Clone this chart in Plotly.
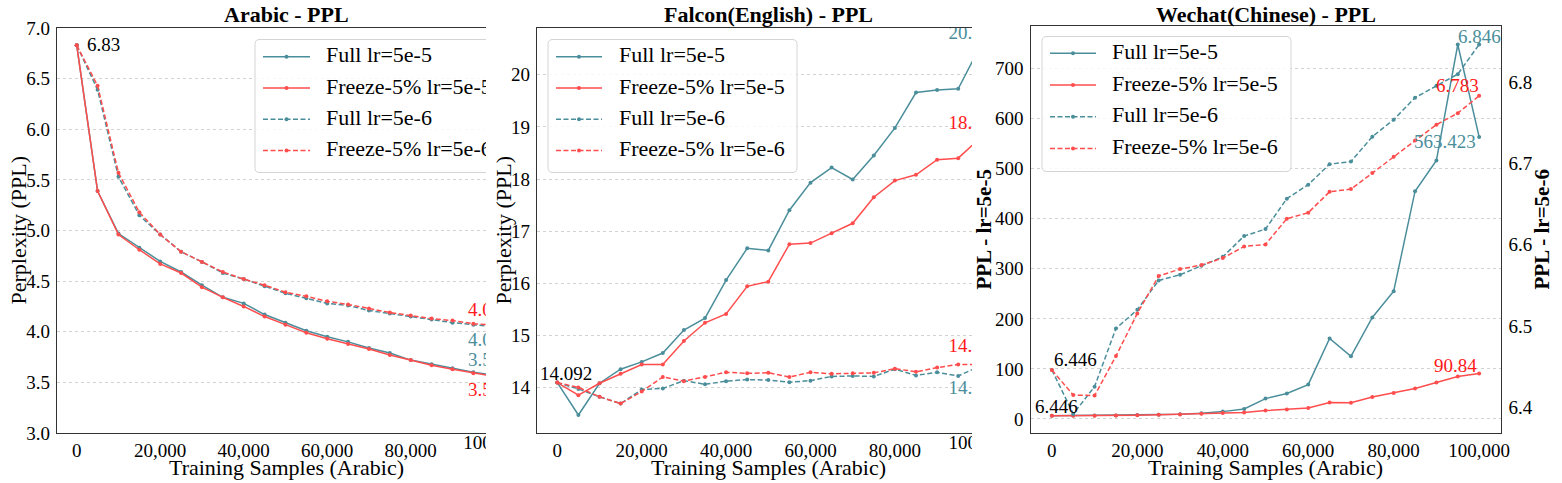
import numpy as np
import plotly.graph_objects as go

W, H = 1562, 483
FONT = "Liberation Serif, Times New Roman, serif"
TEAL = "#4B8E9B"
RED = "#FF4D4D"
RED_TXT = "#FF1A1A"

# ---------------- data ----------------
samples = list(range(0, 100001, 5000))
x_tickvals = [0, 20000, 40000, 60000, 80000, 100000]
x_ticktext = ["0", "20,000", "40,000", "60,000", "80,000", "100,000"]
series_names = ["Full lr=5e-5", "Freeze-5% lr=5e-5", "Full lr=5e-6", "Freeze-5% lr=5e-6"]

ar_full_5e5 = [6.83, 5.39, 4.97, 4.83, 4.695, 4.59, 4.46, 4.34, 4.28, 4.17, 4.09, 4.01, 3.95, 3.90, 3.84, 3.79, 3.72, 3.68, 3.64, 3.60, 3.5713]
ar_frz_5e5 = [6.83, 5.39, 4.96, 4.81, 4.67, 4.58, 4.44, 4.34, 4.25, 4.15, 4.07, 3.99, 3.93, 3.88, 3.83, 3.77, 3.72, 3.67, 3.63, 3.59, 3.5588]
ar_full_5e6 = [6.83, 6.39, 5.53, 5.15, 4.96, 4.79, 4.69, 4.58, 4.52, 4.45, 4.38, 4.33, 4.28, 4.26, 4.21, 4.18, 4.15, 4.12, 4.09, 4.07, 4.0512]
ar_frz_5e6 = [6.83, 6.43, 5.57, 5.18, 4.96, 4.79, 4.69, 4.59, 4.52, 4.46, 4.39, 4.35, 4.30, 4.27, 4.23, 4.19, 4.16, 4.13, 4.11, 4.08, 4.0659]

fa_full_5e5 = [14.092, 13.47, 14.08, 14.35, 14.49, 14.66, 15.10, 15.33, 16.06, 16.67, 16.63, 17.40, 17.93, 18.22, 17.99, 18.45, 18.98, 19.66, 19.71, 19.73, 20.5123]
fa_frz_5e5 = [14.092, 13.85, 14.08, 14.26, 14.44, 14.44, 14.89, 15.24, 15.41, 15.94, 16.03, 16.75, 16.77, 16.96, 17.15, 17.65, 17.97, 18.08, 18.37, 18.40, 18.7712]
fa_full_5e6 = [14.092, 13.97, 13.82, 13.69, 13.96, 13.98, 14.13, 14.06, 14.12, 14.15, 14.14, 14.10, 14.13, 14.21, 14.22, 14.21, 14.35, 14.23, 14.29, 14.22, 14.4018]
fa_frz_5e6 = [14.092, 14.00, 13.82, 13.69, 13.92, 14.20, 14.12, 14.20, 14.29, 14.27, 14.28, 14.20, 14.29, 14.26, 14.27, 14.28, 14.36, 14.30, 14.38, 14.44, 14.4421]

wc_full_5e5 = [6.446, 6.8, 6.9, 7.0, 8.0, 8.7, 9.3, 11.3, 14.7, 20.0, 40.7, 51.0, 68.7, 160.7, 125.3, 202.7, 255.3, 455.0, 516.5, 748.0, 563.423]
wc_frz_5e5 = [6.446, 6.5, 6.6, 6.8, 7.5, 8.3, 9.2, 10.3, 11.8, 13.0, 16.7, 19.0, 22.0, 33.0, 32.5, 44.0, 52.0, 61.0, 73.0, 85.0, 90.84]
wc_full_5e6 = [6.446, 6.392, 6.4255, 6.497, 6.520, 6.556, 6.563, 6.574, 6.585, 6.6106, 6.6192, 6.6566, 6.6738, 6.6990, 6.7021, 6.7328, 6.7537, 6.7807, 6.7954, 6.8096, 6.846]
wc_frz_5e6 = [6.446, 6.4152, 6.4145, 6.463, 6.5155, 6.5615, 6.570, 6.575, 6.5835, 6.5978, 6.6003, 6.632, 6.6393, 6.665, 6.6683, 6.688, 6.708, 6.728, 6.7475, 6.7617, 6.783]

# ---------------- layout geometry (pixels) ----------------
P1 = dict(x0=57, x1=486, y0=28, y1=433, r=[-4720, 98030])
P2 = dict(x0=537, x1=972, y0=28, y1=433, r=[-4810, 98270])
P3 = dict(x0=1030.5, x1=1500.5, y0=26, y1=433, r=[-5000, 105000])


def xdom(p):
    return [p["x0"] / W, p["x1"] / W]


def ydom(p):
    return [1 - p["y1"] / H, 1 - p["y0"] / H]


fig = go.Figure()

styles = [(TEAL, "solid"), (RED, "solid"), (TEAL, "5px,2.5px"), (RED, "5px,2.5px")]


def add_series(xa, ya, ys, k):
    color, dash = styles[k]
    fig.add_trace(go.Scatter(
        x=samples, y=ys, xaxis=xa, yaxis=ya, mode="lines+markers",
        line=dict(color=color, width=1.5, dash=dash),
        marker=dict(size=4, color=color), showlegend=False, hoverinfo="skip"))


for k, ys in enumerate([ar_full_5e5, ar_frz_5e5, ar_full_5e6, ar_frz_5e6]):
    add_series("x", "y", ys, k)
for k, ys in enumerate([fa_full_5e5, fa_frz_5e5, fa_full_5e6, fa_frz_5e6]):
    add_series("x2", "y2", ys, k)
add_series("x3", "y3", wc_full_5e5, 0)
add_series("x3", "y3", wc_frz_5e5, 1)
add_series("x3", "y4", wc_full_5e6, 2)
add_series("x3", "y4", wc_frz_5e6, 3)


def fmt(v):
    return f"{v:.4f}".rstrip("0").rstrip(".")


# clipped end-of-line labels (text traces, clipped to the plot area)
def edge_label(xa, ya, x, y, color, pos, pad=0):
    fig.add_trace(go.Scatter(
        x=[x], y=[y], xaxis=xa, yaxis=ya, mode="markers+text", text=[fmt(y)],
        textposition=pos, marker=dict(size=pad, color="rgba(0,0,0,0)"),
        textfont=dict(family=FONT, size=19, color=color),
        cliponaxis=True, showlegend=False, hoverinfo="skip"))


edge_label("x", "y", samples[-1], ar_frz_5e6[-1], RED_TXT, "top center", 0)
edge_label("x", "y", samples[-1], ar_full_5e6[-1], TEAL, "bottom center", 6)
edge_label("x", "y", samples[-1], ar_full_5e5[-1], TEAL, "top center", 0)
edge_label("x", "y", samples[-1], ar_frz_5e5[-1], RED_TXT, "bottom center", 7)
edge_label("x2", "y2", samples[-1], fa_full_5e5[-1], TEAL, "top center", 0)
edge_label("x2", "y2", samples[-1], fa_frz_5e5[-1], RED_TXT, "top center", 0)
edge_label("x2", "y2", samples[-1], fa_frz_5e6[-1], RED_TXT, "top center", 11)
edge_label("x2", "y2", samples[-1], fa_full_5e6[-1], TEAL, "bottom center", 20)


# ---------------- manual legends (overlay axes in pixel units) ----------------
def rounded_box(x0, y0, x1, y1, r):
    xs, ys = [], []
    for cx, cy, a0 in [(x1 - r, y0 + r, -90), (x1 - r, y1 - r, 0), (x0 + r, y1 - r, 90), (x0 + r, y0 + r, 180)]:
        for a in np.linspace(a0, a0 + 90, 6):
            xs.append(cx + r * np.cos(np.radians(a)))
            ys.append(cy + r * np.sin(np.radians(a)))
    xs.append(xs[0])
    ys.append(ys[0])
    return xs, ys


def add_legend(n, p, base_x, base_y, box, row0, row_step, lx0, lx1, tx):
    xa, ya = f"x{n}", f"y{n}"
    fig.layout[f"xaxis{n}"] = dict(overlaying=base_x, anchor=ya, range=[p["x0"], p["x1"]], visible=False,
                                   fixedrange=True, automargin=False)
    fig.layout[f"yaxis{n}"] = dict(overlaying=base_y, anchor=xa, range=[p["y1"], p["y0"]], visible=False,
                                   fixedrange=True, automargin=False)
    bx, by = rounded_box(*box, 4)
    fig.add_trace(go.Scatter(x=bx, y=by, xaxis=xa, yaxis=ya, mode="lines", fill="toself",
                             fillcolor="rgba(255,255,255,0.85)", line=dict(color="#d4d4d4", width=1),
                             showlegend=False, hoverinfo="skip"))
    for i, name in enumerate(series_names):
        color, dash = styles[i]
        ry = row0 + i * row_step
        fig.add_trace(go.Scatter(x=[lx0, lx1], y=[ry, ry], xaxis=xa, yaxis=ya, mode="lines",
                                 line=dict(color=color, width=1.5, dash=dash), showlegend=False, hoverinfo="skip"))
        fig.add_trace(go.Scatter(x=[(lx0 + lx1) / 2], y=[ry], xaxis=xa, yaxis=ya, mode="markers",
                                 marker=dict(size=4, color=color), showlegend=False, hoverinfo="skip"))
        fig.add_trace(go.Scatter(x=[tx], y=[ry], xaxis=xa, yaxis=ya, mode="text", text=[name],
                                 textposition="middle right", textfont=dict(family=FONT, size=22, color="black"),
                                 cliponaxis=True, showlegend=False, hoverinfo="skip"))


add_legend(5, P1, "x", "y", (255, 39.5, 530, 172.5), 56.7, 31.3, 263, 310, 326)
add_legend(6, P2, "x2", "y2", (548, 39.5, 797, 172.5), 56.7, 31.3, 556, 602, 619)
add_legend(7, P3, "x3", "y3", (1042, 36.5, 1291, 171.5), 53.3, 31.7, 1050, 1096, 1112)


# ---------------- cropped last x tick label of panels 1 & 2 ----------------
def cropped_tick(n, p, value, text):
    xa, ya = f"x{n}", f"y{n}"
    band = (p["y1"], p["y1"] + 24)
    fig.layout[f"xaxis{n}"] = dict(domain=xdom(p), anchor=ya, range=[p["x0"], p["x1"]], visible=False,
                                   fixedrange=True, automargin=False)
    fig.layout[f"yaxis{n}"] = dict(domain=[1 - band[1] / H, 1 - band[0] / H], anchor=xa,
                                   range=[band[1], band[0]], visible=False, fixedrange=True, automargin=False)
    px = p["x0"] + (value - p["r"][0]) / (p["r"][1] - p["r"][0]) * (p["x1"] - p["x0"])
    fig.add_trace(go.Scatter(x=[px], y=[p["y1"] + 11.5], xaxis=xa, yaxis=ya, mode="text", text=[text],
                             textposition="middle center", textfont=dict(family=FONT, size=19, color="black"),
                             cliponaxis=True, showlegend=False, hoverinfo="skip"))


cropped_tick(8, P1, x_tickvals[-1], x_ticktext[-1])
cropped_tick(9, P2, x_tickvals[-1], x_ticktext[-1])

# ---------------- axes ----------------
tickfont = dict(family=FONT, size=19, color="black")
base_x = dict(showline=True, linecolor="#333333", linewidth=1.2, ticks="", tickfont=tickfont,
              showgrid=False, zeroline=False, tickvals=x_tickvals, ticktext=x_ticktext, mirror=True,
              automargin=False)
base_y = dict(showline=True, linecolor="#333333", linewidth=1.2, ticks="", tickfont=tickfont,
              showgrid=True, gridcolor="#d2d2d2", griddash="dot", gridwidth=0.8, zeroline=False,
              ticklabelstandoff=2, automargin=False)

ar_yticks = [3.0, 3.5, 4.0, 4.5, 5.0, 5.5, 6.0, 6.5, 7.0]
fa_yticks = [14, 15, 16, 17, 18, 19, 20]
wc_yticks_l = [0, 100, 200, 300, 400, 500, 600, 700]
wc_yticks_r = [6.4, 6.5, 6.6, 6.7, 6.8]

fig.update_layout(
    xaxis=dict(base_x, domain=xdom(P1), anchor="y", range=P1["r"]),
    yaxis=dict(base_y, domain=ydom(P1), anchor="x", range=[3.0, 7.0], tickvals=ar_yticks,
               ticktext=[f"{v:.1f}" for v in ar_yticks]),
    xaxis2=dict(base_x, domain=xdom(P2), anchor="y2", range=P2["r"]),
    yaxis2=dict(base_y, domain=ydom(P2), anchor="x2", range=[13.125, 20.898], tickvals=fa_yticks,
                ticktext=[str(v) for v in fa_yticks]),
    xaxis3=dict(base_x, domain=xdom(P3), anchor="y3", range=P3["r"]),
    yaxis3=dict(base_y, domain=ydom(P3), anchor="x3", range=[-28, 785], tickvals=wc_yticks_l,
                ticktext=[str(v) for v in wc_yticks_l], mirror=True),
    yaxis4=dict(showline=True, linecolor="#333333", linewidth=1.2, ticks="", tickfont=tickfont,
                showgrid=False, zeroline=False, overlaying="y3", anchor="x3", side="right",
                range=[6.3685, 6.8688], tickvals=wc_yticks_r, ticktext=[f"{v:.1f}" for v in wc_yticks_r],
                ticklabelstandoff=3, automargin=False),
)

# ---------------- titles & point labels ----------------
ann = []


def txt(x, y, text, size, bold=False, angle=0):
    ann.append(dict(x=x / W, y=1 - y / H, xref="paper", yref="paper", text=f"<b>{text}</b>" if bold else text,
                    showarrow=False, textangle=angle, xanchor="center", yanchor="middle",
                    font=dict(family=FONT, size=size, color="black")))


def point_label(xa, ya, x, y, color, xanchor, xshift, yshift):
    ann.append(dict(x=x, y=y, xref=xa, yref=ya, text=fmt(y), showarrow=False, xanchor=xanchor,
                    yanchor="middle", xshift=xshift, yshift=yshift,
                    font=dict(family=FONT, size=19, color=color)))


txt(286.5, 15, "Arabic - PPL", 22, bold=True)
txt(768.5, 15, "Falcon(English) - PPL", 22, bold=True)
txt(1265.5, 14, "Wechat(Chinese) - PPL", 22, bold=True)
for cx in (286.5, 768.5, 1265.5):
    txt(cx, 467, "Training Samples (Arabic)", 22)
txt(18, 230.5, "Perplexity (PPL)", 22, angle=-90)
txt(503, 230.5, "Perplexity (PPL)", 22, angle=-90)
txt(984, 229.5, "PPL - lr=5e-5", 21, bold=True, angle=-90)
txt(1542, 229.5, "PPL - lr=5e-6", 21, bold=True, angle=-90)

point_label("x", "y", samples[0], ar_full_5e5[0], "black", "left", 8, 1)
point_label("x2", "y2", samples[0], fa_full_5e5[0], "black", "center", 9, 9)
point_label("x3", "y3", samples[0], wc_full_5e5[0], "black", "center", 5, 9)
point_label("x3", "y4", samples[0], wc_frz_5e6[0], "black", "left", 0, 10)
point_label("x3", "y3", samples[-1], wc_frz_5e5[-1], RED_TXT, "right", 0, 8)
point_label("x3", "y3", samples[-1], wc_full_5e5[-1], TEAL, "right", -1, -5)
point_label("x3", "y4", samples[-1], wc_frz_5e6[-1], RED_TXT, "right", 2, 10)
point_label("x3", "y4", samples[-1], wc_full_5e6[-1], TEAL, "center", 0, 8)

fig.update_layout(annotations=ann, width=W, height=H,
                  margin=dict(l=0, r=0, t=0, b=0, autoexpand=False),
                  paper_bgcolor="white", plot_bgcolor="white", showlegend=False)

fig.write_html("out.html")
